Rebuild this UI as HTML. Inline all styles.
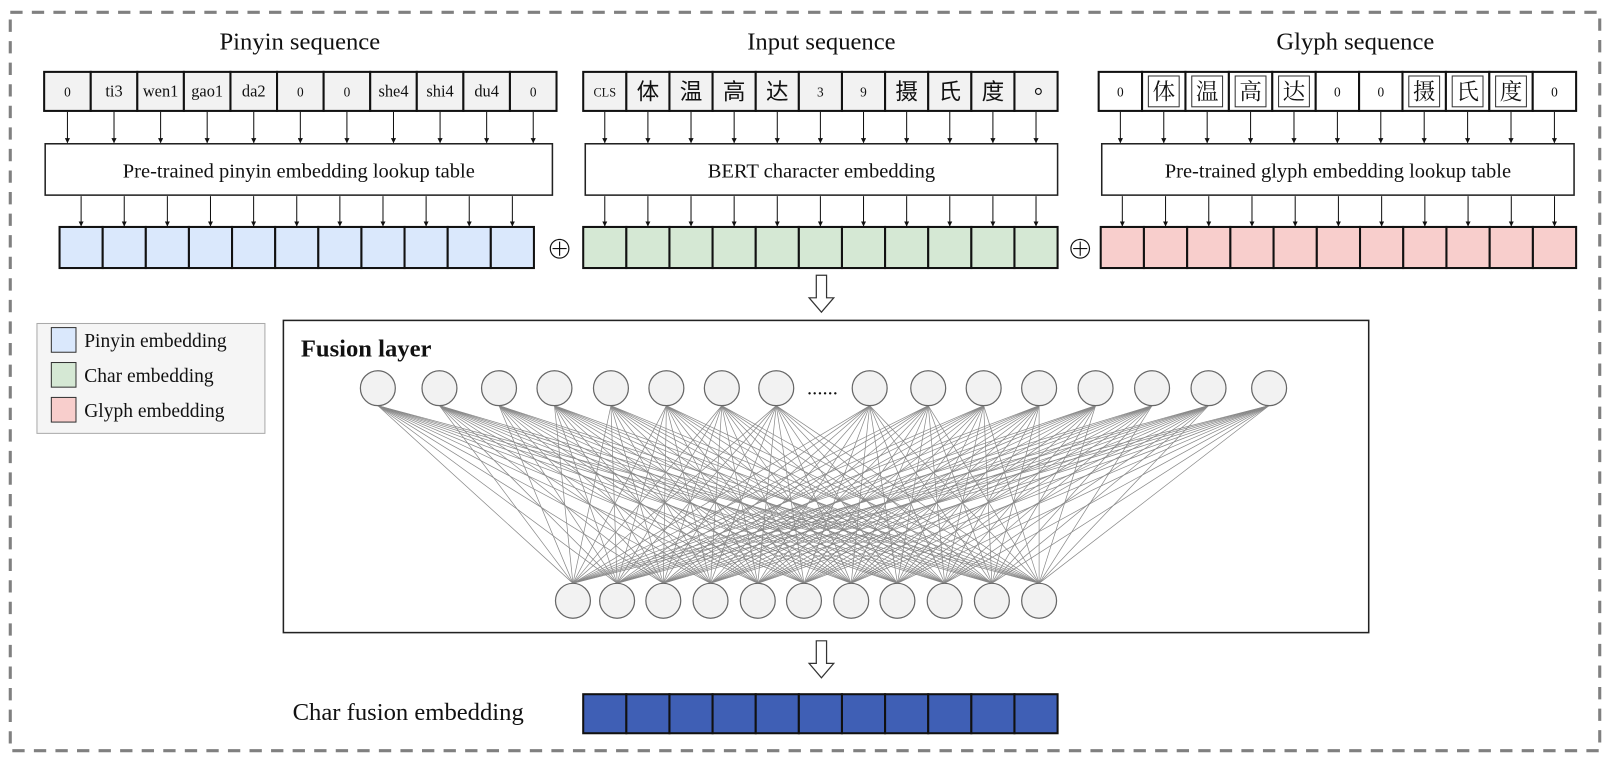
<!DOCTYPE html>
<html><head><meta charset="utf-8"><style>
html,body{margin:0;padding:0;background:#fff;width:1610px;height:762px;overflow:hidden}
svg{display:block}
text{font-family:"Liberation Serif","Noto Serif CJK SC",serif;fill:#111}
.cjk{font-family:"Liberation Sans","Noto Sans CJK SC",sans-serif}
</style></head><body>
<svg width="1610" height="762" viewBox="0 0 1568 742" preserveAspectRatio="none" xmlns="http://www.w3.org/2000/svg">
<defs><marker id="ah" viewBox="0 0 10 10" refX="9" refY="5" markerWidth="5" markerHeight="5" orient="auto"><path d="M0,0L10,5L0,10z" fill="#111"/></marker></defs>
<rect x="10" y="12" width="1548" height="719" fill="none" stroke="#808080" stroke-width="3" stroke-dasharray="12,9"/>
<text x="292" y="48" font-size="24" text-anchor="middle">Pinyin sequence</text>
<text x="800" y="48" font-size="24" text-anchor="middle">Input sequence</text>
<text x="1320" y="48" font-size="24" text-anchor="middle">Glyph sequence</text>
<g id="g"></g>
<text x="293" y="347" font-size="24" font-weight="bold">Fusion layer</text>
<text x="285" y="701" font-size="24">Char fusion embedding</text>
</svg>
<script>
(function(){
const S="http://www.w3.org/2000/svg",g=document.getElementById('g');
function el(t,a,txt){const e=document.createElementNS(S,t);for(const k in a)e.setAttribute(k,a[k]);if(txt!==undefined)e.textContent=txt;g.appendChild(e);return e;}
function row(x0,x1,y,h,fill,sw,labels,inner){const w=(x1-x0)/11;const c=[];for(let i=0;i<11;i++){const x=x0+i*w;el('rect',{x:x,y:y,width:w,height:h,fill:fill,stroke:'#111','stroke-width':sw});c.push(x+w/2);
 if(labels){const l=labels[i];const big=/[\u4e00-\u9fff\u3002]/.test(l);
  if(inner&&big)el('rect',{x:x+w/2-15,y:y+h/2-15,width:30,height:30,fill:'none',stroke:'#333','stroke-width':1});
  const dx=(l=='。')?9:0, dy=(l=='。')?-6:0;
  const t=el('text',{x:x+w/2+dx,y:y+h/2+(big?8:5)+dy,'font-size':big?22:(l=='CLS'?12:(l.length>1?16:13)),'text-anchor':'middle'},l);if(big&&!inner)t.setAttribute('class','cjk');}}
 return c;}
function arrows(cs,y1,y2){cs.forEach(c=>el('line',{x1:c,y1:y1,x2:c,y2:y2,stroke:'#111','stroke-width':1,'marker-end':'url(#ah)'}));}
const py=['0','ti3','wen1','gao1','da2','0','0','she4','shi4','du4','0'];
const inp=['CLS','体','温','高','达','3','9','摄','氏','度','。'];
const gl=['0','体','温','高','达','0','0','摄','氏','度','0'];
let c1=row(43,542,70,38,'#f2f2f2',2,py);
let c2=row(568,1030,70,38,'#f2f2f2',2,inp);
let c3=row(1070,1535,70,38,'#fff',2,gl,true);
arrows(c1,109,139);arrows(c2,109,139);arrows(c3,109,139);
el('rect',{x:44,y:140,width:494,height:50,fill:'#fff',stroke:'#222','stroke-width':1.5});
el('text',{x:291,y:173,'font-size':20,'text-anchor':'middle'},'Pre-trained pinyin embedding lookup table');
el('rect',{x:570,y:140,width:460,height:50,fill:'#fff',stroke:'#222','stroke-width':1.5});
el('text',{x:800,y:173,'font-size':20,'text-anchor':'middle'},'BERT character embedding');
el('rect',{x:1073,y:140,width:460,height:50,fill:'#fff',stroke:'#222','stroke-width':1.5});
el('text',{x:1303,y:173,'font-size':20,'text-anchor':'middle'},'Pre-trained glyph embedding lookup table');
const e1=row(58,520,221,40,'#dae8fc',2),e2=row(568,1030,221,40,'#d5e8d4',2),e3=row(1072,1535,221,40,'#f8cecc',2);
arrows(e1,191,220);arrows(e2,191,220);arrows(e3,191,220);
el('text',{x:545,y:252,'font-size':26,'text-anchor':'middle'},'⊕');
el('text',{x:1052,y:252,'font-size':26,'text-anchor':'middle'},'⊕');
function hollow(x,y){el('path',{d:`M${x-5},${y} h10 v22 h7 l-12,14 l-12,-14 h7 z`,fill:'#fff',stroke:'#333','stroke-width':1.2});}
hollow(800,268);hollow(800,624);
el('rect',{x:36,y:315,width:222,height:107,fill:'#f5f5f5',stroke:'#aaa','stroke-width':1});
[['#dae8fc','Pinyin embedding',330],['#d5e8d4','Char embedding',364],['#f8cecc','Glyph embedding',398]].forEach(a=>{
 el('rect',{x:50,y:a[2]-11,width:24,height:24,fill:a[0],stroke:'#333','stroke-width':1});
 el('text',{x:82,y:a[2]+8,'font-size':19},a[1]);});
el('rect',{x:276,y:312,width:1057,height:304,fill:'#fff',stroke:'#222','stroke-width':1.5});
const tops=[368,428,486,540,595,649,703,756,847,904,958,1012,1067,1122,1177,1236];
const bots=[558,601,646,692,738,783,829,874,920,966,1012];
tops.forEach(a=>bots.forEach(b=>el('line',{x1:a,y1:395,x2:b,y2:568,stroke:'#888','stroke-width':0.7})));
tops.forEach(a=>el('circle',{cx:a,cy:378,r:17,fill:'#f2f2f2',stroke:'#666','stroke-width':1.2}));
bots.forEach(a=>el('circle',{cx:a,cy:585,r:17,fill:'#f2f2f2',stroke:'#666','stroke-width':1.2}));
el('text',{x:801,y:384,'font-size':20,'text-anchor':'middle'},'......');
row(568,1030,676,38,'#3f5fb5',2);
})();
</script>
</body></html>
